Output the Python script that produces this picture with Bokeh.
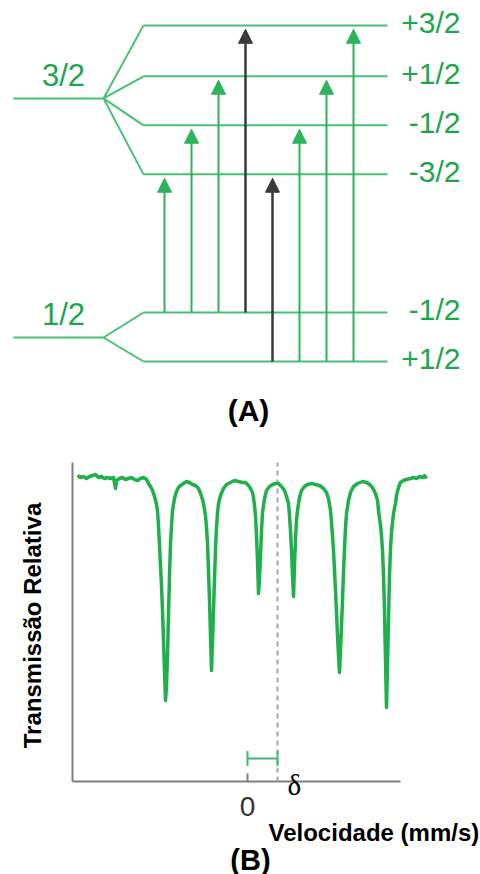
import math
from bokeh.plotting import figure
from bokeh.layouts import column
from bokeh.models import Range1d, ColumnDataSource, Arrow, NormalHead
from bokeh.core.properties import value
from bokeh.embed import file_html
from bokeh.resources import INLINE

# ---------------- Panel A data (energy levels, arbitrary energy units) ----------------
excited_spin = "3/2"
ground_spin = "1/2"
excited_center_E = 4.88
ground_center_E = 0.0
excited_m = ["+3/2", "+1/2", "-1/2", "-3/2"]
excited_E = [6.37, 5.33, 4.33, 3.33]
ground_m = ["-1/2", "+1/2"]
ground_E = [0.51, -0.49]
trans_from = ["-1/2", "-1/2", "-1/2", "-1/2", "+1/2", "+1/2", "+1/2", "+1/2"]
trans_to = ["-3/2", "-1/2", "+1/2", "+3/2", "-3/2", "-1/2", "+1/2", "+3/2"]

# ---------------- Panel B data (Mossbauer spectrum) ----------------
velocity = [
    -8.50, -8.35, -8.20, -8.05, -7.90, -7.75, -7.60, -7.45, -7.30, -7.15, -7.00, -6.85, -6.70,
    -6.60, -6.55, -6.40, -6.25, -6.10, -5.95, -5.80, -5.65, -5.50, -5.35, -5.20, -5.05, -4.95,
    -4.85, -4.75, -4.65, -4.55, -4.50, -4.45, -4.40, -4.35, -4.30, -4.25, -4.20, -4.15, -4.10,
    -4.05, -4.00, -3.95, -3.90, -3.85, -3.80, -3.75, -3.65, -3.55, -3.45, -3.35, -3.20, -3.05,
    -2.90, -2.75, -2.60, -2.45, -2.35, -2.25, -2.20, -2.10, -2.05, -2.00, -1.95, -1.90, -1.85,
    -1.80, -1.75, -1.70, -1.65, -1.60, -1.55, -1.50, -1.45, -1.35, -1.20, -1.05, -0.85, -0.65,
    -0.45, -0.25, -0.10, 0.05, 0.15, 0.25, 0.30, 0.35, 0.40, 0.45, 0.50, 0.55, 0.60, 0.65, 0.70,
    0.75, 0.85, 0.95, 1.10, 1.25, 1.40, 1.55, 1.70, 1.85, 1.95, 2.05, 2.10, 2.15, 2.20, 2.25,
    2.30, 2.35, 2.40, 2.45, 2.50, 2.60, 2.70, 2.85, 3.00, 3.20, 3.40, 3.60, 3.80, 3.95, 4.05,
    4.15, 4.20, 4.25, 4.30, 4.35, 4.40, 4.45, 4.50, 4.55, 4.60, 4.65, 4.70, 4.75, 4.80, 4.85,
    4.90, 4.95, 5.05, 5.15, 5.30, 5.50, 5.75, 5.95, 6.10, 6.25, 6.40, 6.50, 6.55, 6.65, 6.70,
    6.75, 6.80, 6.85, 6.90, 6.95, 7.00, 7.05, 7.10, 7.15, 7.20, 7.25, 7.30, 7.40, 7.45, 7.55,
    7.65, 7.80, 7.95, 8.15, 8.30, 8.45, 8.60, 8.75, 8.85, 8.95,
]
transmission = [
    100.5, 100.3, 100.4, 100.2, 100.4, 100.5, 100.6, 100.3, 100.4, 100.2, 100.3, 100.2, 100.3,
    99.2, 100.0, 100.2, 100.3, 100.1, 100.2, 100.3, 100.1, 100.0, 100.2, 100.3, 100.1, 99.7,
    99.4, 99.0, 98.4, 97.6, 97.0, 95.5, 93.5, 91.5, 89.5, 87.0, 84.0, 81.0, 78.0,
    79.5, 82.5, 86.5, 90.5, 93.7, 95.5, 97.0, 98.2, 98.9, 99.3, 99.5, 99.7, 99.9,
    99.8, 99.6, 99.5, 99.2, 98.7, 98.1, 97.7, 96.5, 95.3, 93.7, 91.0, 88.0, 84.5,
    81.0, 84.0, 87.0, 90.2, 93.2, 95.3, 96.7, 97.7, 98.5, 99.2, 99.6, 99.8, 100.0,
    99.9, 99.8, 99.8, 99.5, 99.2, 98.8, 98.3, 97.5, 96.5, 94.5, 92.0, 88.7, 90.2, 92.5, 95.0,
    96.8, 98.2, 99.0, 99.4, 99.6, 99.7, 99.7, 99.4, 99.0, 98.4, 97.7, 96.5, 95.0, 93.0, 90.5,
    88.4, 91.5, 94.2, 96.0, 97.0, 98.3, 99.0, 99.4, 99.6, 99.7, 99.6, 99.5, 99.2, 98.8, 98.2,
    97.0, 95.8, 94.5, 93.0, 91.0, 89.0, 86.8, 84.5, 82.5, 80.8, 83.0, 85.5, 88.0, 90.8, 93.2,
    95.3, 96.7, 98.0, 98.8, 99.4, 99.7, 99.9, 99.8, 99.6, 99.3, 98.7, 98.0, 97.0, 95.5, 94.5,
    93.0, 90.5, 87.0, 82.0, 77.3, 81.5, 86.0, 90.5, 93.2, 94.8, 95.8, 96.7, 97.7, 98.5, 99.3,
    99.8, 100.0, 100.1, 100.2, 100.3, 100.2, 100.4, 100.3, 100.5, 100.2,
]
isomer_shift = 1.5
x_ticks = [0]
x_tick_labels = ["0"]
x_label = "Velocidade (mm/s)"
y_label = "Transmissão Relativa"
panel_a_label = "(A)"
panel_b_label = "(B)"
delta_symbol = "δ"

# ---------------- styles ----------------
GREEN_LINE = "#46c073"
GREEN_ARROW = "#2db35a"
GREEN_TEXT = "#1ca64c"
GREEN_CURVE = "#1fb04c"
DARK = "#3a3a3a"
AXIS_GRAY = "#7f7f7f"
FONT = "Liberation Sans"

# layout of the level diagram (horizontal positions in diagram units)
unsplit_x0, unsplit_x1 = 13, 103
split_x0, level_x1 = 143, 387
arrow_x0, arrow_dx = 164, 27
tip_gap = 0.08
right_label_x = 460
left_label_x = 63

# layout of the spectrum axes (data units)
axis_v0, axis_v1 = -8.75, 7.65
axis_T0, axis_T1 = 69.9, 101.8
tick_len = 0.8


def mval(s):
    n, d = s.split("/")
    return float(n) / float(d)


# ================= Panel A =================
pA = figure(width=480, height=430, x_range=Range1d(0, 480), y_range=Range1d(-1.898, 6.878),
            output_backend="svg", toolbar_location=None, x_axis_type=None, y_axis_type=None,
            min_border=0, outline_line_color=None)

pA.segment(x0=[unsplit_x0, unsplit_x0], y0=[excited_center_E, ground_center_E],
           x1=[unsplit_x1, unsplit_x1], y1=[excited_center_E, ground_center_E],
           line_color=GREEN_LINE, line_width=2)
all_E = excited_E + ground_E
centers = [excited_center_E] * len(excited_E) + [ground_center_E] * len(ground_E)
pA.segment(x0=[unsplit_x1] * len(all_E), y0=centers, x1=[split_x0] * len(all_E), y1=all_E,
           line_color=GREEN_LINE, line_width=2)
pA.segment(x0=[split_x0] * len(all_E), y0=all_E, x1=[level_x1] * len(all_E), y1=all_E,
           line_color=GREEN_LINE, line_width=2)

ok = dict(x0=[], y0=[], x1=[], y1=[])
forb = dict(x0=[], y0=[], x1=[], y1=[])
for i, (f, t) in enumerate(zip(trans_from, trans_to)):
    x = arrow_x0 + i * arrow_dx
    d = forb if abs(mval(t) - mval(f)) == 2 else ok
    d["x0"].append(x)
    d["x1"].append(x)
    d["y0"].append(ground_E[ground_m.index(f)])
    d["y1"].append(excited_E[excited_m.index(t)] - tip_gap)

pA.add_layout(Arrow(end=NormalHead(size=14, fill_color=GREEN_ARROW, line_color=GREEN_ARROW),
                    x_start="x0", y_start="y0", x_end="x1", y_end="y1",
                    source=ColumnDataSource(ok), line_color=GREEN_ARROW, line_width=2))
pA.add_layout(Arrow(end=NormalHead(size=14, fill_color=DARK, line_color=DARK),
                    x_start="x0", y_start="y0", x_end="x1", y_end="y1",
                    source=ColumnDataSource(forb), line_color=DARK, line_width=2.5))

pA.text(x=[right_label_x] * len(all_E), y=all_E, text=excited_m + ground_m,
        text_align="right", text_baseline="middle", text_font=value(FONT),
        text_font_size="30px", text_color=GREEN_TEXT, y_offset=-3)
pA.text(x=[left_label_x, left_label_x], y=[excited_center_E, ground_center_E],
        text=[excited_spin, ground_spin], text_align="center", text_baseline="middle",
        text_font=value(FONT), text_font_size="31px", text_color=GREEN_TEXT, y_offset=-23)
pA.text(x=[248], y=[-1.49], text=[panel_a_label], text_align="center", text_baseline="middle",
        text_font=value(FONT), text_font_size="30px", text_font_style="bold", text_color="black")

# ================= Panel B =================
pB = figure(width=480, height=444, x_range=Range1d(-12.35, 11.65), y_range=Range1d(60.6, 105.0),
            output_backend="svg", toolbar_location=None, x_axis_type=None, y_axis_type=None,
            min_border=0, outline_line_color=None)

# axes (drawn as lines so that they can be bounded like the original)
pB.segment(x0=[axis_v0, axis_v0], y0=[axis_T0, axis_T0], x1=[axis_v1, axis_v0],
           y1=[axis_T0, axis_T1], line_color=AXIS_GRAY, line_width=2)
pB.segment(x0=x_ticks, y0=[axis_T0] * len(x_ticks), x1=x_ticks,
           y1=[axis_T0 + tick_len] * len(x_ticks), line_color=AXIS_GRAY, line_width=2)
pB.text(x=x_ticks, y=[67.4] * len(x_ticks), text=x_tick_labels, text_align="center",
        text_baseline="middle", text_font=value(FONT), text_font_size="28px",
        text_color="#333333")

# isomer shift marker
pB.segment(x0=[isomer_shift], y0=[axis_T0], x1=[isomer_shift], y1=[axis_T1],
           line_color="#a3a6ae", line_width=2, line_dash="5 4")

pB.line(velocity, transmission, line_color=GREEN_CURVE, line_width=3.5, line_join="round")

bracket_T, cap = 72.2, 0.75
pB.segment(x0=[0, 0, isomer_shift], y0=[bracket_T, bracket_T - cap, bracket_T - cap],
           x1=[isomer_shift, 0, isomer_shift], y1=[bracket_T, bracket_T + cap, bracket_T + cap],
           line_color="#3cb86a", line_width=2)

pB.text(x=[2.0], y=[69.6], text=[delta_symbol], text_align="left", text_baseline="middle",
        text_font=value("Liberation Serif"), text_font_size="29px", text_color="black")
pB.text(x=[1.05], y=[64.8], text=[x_label], text_align="left", text_baseline="middle",
        text_font=value(FONT), text_font_size="24px", text_font_style="bold", text_color="black")
pB.text(x=[0.15], y=[62.1], text=[panel_b_label], text_align="center", text_baseline="middle",
        text_font=value(FONT), text_font_size="29px", text_font_style="bold", text_color="black")
pB.text(x=[-10.75], y=[85.5], text=[y_label], angle=math.pi / 2, text_align="center",
        text_baseline="middle", text_font=value(FONT), text_font_size="24px",
        text_font_style="bold", text_color="black")

layout = column(pA, pB, spacing=0)
open("out.html", "w").write(file_html(layout, INLINE))
